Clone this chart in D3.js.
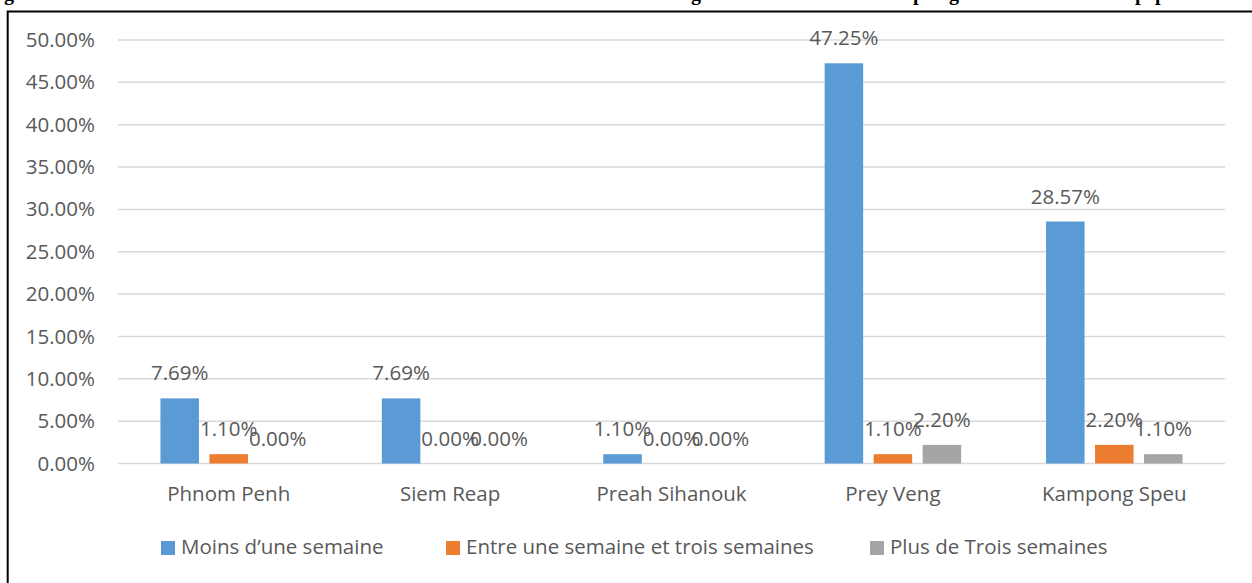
<!DOCTYPE html>
<html>
<head>
<meta charset="utf-8">
<script src="https://cdn.jsdelivr.net/npm/d3@7"></script>
<style>
  html, body { margin: 0; padding: 0; background: #ffffff; }
  svg { display: block; }
</style>
</head>
<body>
<svg id="chart" width="1252" height="583"></svg>
<script>
// ---- data ----
const categories = ["Phnom Penh", "Siem Reap", "Preah Sihanouk", "Prey Veng", "Kampong Speu"];
const seriesNames = ["Moins d\u2019une semaine", "Entre une semaine et trois semaines", "Plus de Trois semaines"];
const moinsUneSemaine = [7.69, 7.69, 1.10, 47.25, 28.57];
const entreUneEtTrois = [1.10, 0.00, 0.00, 1.10, 2.20];
const plusDeTrois = [0.00, 0.00, 0.00, 2.20, 1.10];
const yTicks = [0, 5, 10, 15, 20, 25, 30, 35, 40, 45, 50];
const seriesColors = ["#5B9BD5", "#ED7D31", "#A5A5A5"];
// clipped fragments of the caption line above the frame (only descenders visible)
const captionFragments = [
  { t: "g", x: 4 }, { t: "g", x: 691 }, { t: "p", x: 913 }, { t: "g", x: 949 },
  { t: "p", x: 1135 }, { t: "p", x: 1155 }
];

const seriesValues = [moinsUneSemaine, entreUneEtTrois, plusDeTrois];

// ---- layout ----
const W = 1252, H = 583;
const plot = { left: 118, right: 1225, top: 40, bottom: 463.5 };
const font = "'Open Sans', sans-serif";
const fs = 20.5;
const textColor = "#595959";

const svg = d3.select("#chart");

// caption fragments
svg.append("g").selectAll("text").data(captionFragments).join("text")
  .attr("x", d => d.x).attr("y", 0)
  .attr("font-family", "'Liberation Serif', serif")
  .attr("font-weight", "bold")
  .attr("font-size", 20)
  .attr("fill", "#000")
  .text(d => d.t);

// frame
svg.append("path")
  .attr("d", `M7.7,${H} L7.7,11.5 L${W},11.5`)
  .attr("fill", "none").attr("stroke", "#000").attr("stroke-width", 2);

// scales
const y = d3.scaleLinear().domain([0, 50]).range([plot.bottom, plot.top]);
const x0 = d3.scaleBand().domain(categories).range([plot.left, plot.right]).padding(0);
const p = 0.214;
const x1 = d3.scaleBand().domain(d3.range(seriesNames.length)).range([0, 147]).paddingInner(p).paddingOuter(p / 2);
const groupOffset = c => x0(c) + x0.bandwidth() / 2 - 73.5;

// gridlines
svg.append("g").selectAll("line").data(yTicks).join("line")
  .attr("x1", plot.left).attr("x2", plot.right)
  .attr("y1", d => y(d)).attr("y2", d => y(d))
  .attr("stroke", "#D9D9D9").attr("stroke-width", 1.5);

// y axis labels
const yAxis = d3.axisLeft(y).tickValues(yTicks).tickSize(0).tickPadding(0)
  .tickFormat(d => d.toFixed(2) + "%");
const gy = svg.append("g").attr("transform", `translate(95,0)`).call(yAxis);
gy.select(".domain").remove();
gy.selectAll("text").attr("font-family", font).attr("font-size", fs).attr("fill", textColor);

// x axis labels
const xAxis = d3.axisBottom(x0).tickSize(0).tickPadding(0);
const gx = svg.append("g").attr("transform", `translate(0,${plot.bottom})`).call(xAxis);
gx.select(".domain").remove();
gx.selectAll("text").attr("font-family", font).attr("font-size", fs).attr("fill", textColor)
  .attr("dy", null).attr("y", 37);

// bars
const flat = [];
categories.forEach((c, ci) => {
  seriesValues.forEach((vals, si) => flat.push({ c, si, v: vals[ci] }));
});

svg.append("g").selectAll("rect").data(flat.filter(d => d.v > 0)).join("rect")
  .attr("x", d => groupOffset(d.c) + x1(d.si))
  .attr("width", x1.bandwidth())
  .attr("y", d => y(d.v))
  .attr("height", d => y(0) - y(d.v))
  .attr("fill", d => seriesColors[d.si]);

// value labels
svg.append("g").selectAll("text").data(flat).join("text")
  .attr("x", d => groupOffset(d.c) + x1(d.si) + x1.bandwidth() / 2)
  .attr("y", d => y(d.v) - 18)
  .attr("text-anchor", "middle")
  .attr("font-family", font).attr("font-size", fs).attr("fill", textColor)
  .text(d => d.v.toFixed(2) + "%");

// legend
const legendX = [161, 446, 870];
const lg = svg.append("g").selectAll("g").data(seriesNames).join("g")
  .attr("transform", (d, i) => `translate(${legendX[i]},541)`);
lg.append("rect").attr("width", 14).attr("height", 14).attr("fill", (d, i) => seriesColors[i]);
lg.append("text").attr("x", 20).attr("y", 13)
  .attr("font-family", font).attr("font-size", fs).attr("fill", textColor)
  .text(d => d);
</script>
</body>
</html>
